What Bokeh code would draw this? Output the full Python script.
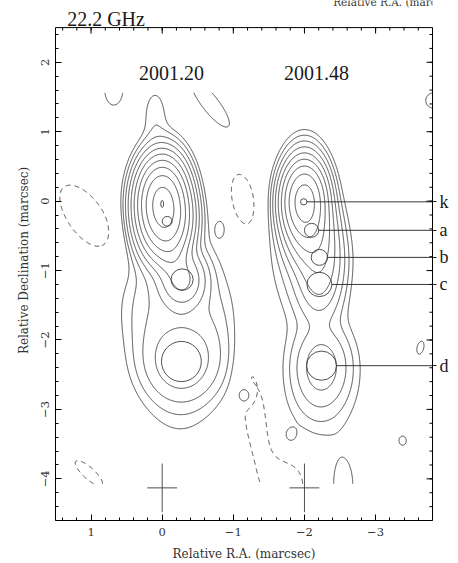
import numpy as np
import contourpy
from bokeh.plotting import figure
from bokeh.models import Range1d, LinearAxis, FixedTicker, Label, Span
from bokeh.embed import file_html
from bokeh.resources import INLINE

# ---------------- brightness model ----------------
# Elliptical Gaussian components: RA / Dec offsets (mas), peak (in units of the
# lowest contour), widths along RA / Dec (mas).

# epoch 2001.20, drawn at RA 0
ep1_ra    = [0.00, 0.00, -0.07, -0.14, -0.28, -0.15, -0.27, -0.25, 0.10, -0.65, 0.15]
ep1_dec   = [0.00, -0.10, -0.29, -0.75, -1.13, -1.30, -2.31, -2.50, 1.25, -1.85, -1.70]
ep1_peak  = [480, 160, 250, 25, 35, 3.0, 12, 2, 1.6, 2.0, 1.5]
ep1_s_ra  = [0.15, 0.18, 0.16, 0.12, 0.17, 0.42, 0.30, 0.35, 0.12, 0.25, 0.25]
ep1_s_dec = [0.26, 0.36, 0.26, 0.18, 0.22, 0.60, 0.32, 0.60, 0.28, 0.45, 0.40]

# epoch 2001.48, drawn at RA -2
ep2_ra    = [-2.00, -2.00, -2.10, -2.21, -2.21, -2.05, -2.24, -2.25, -2.20]
ep2_dec   = [0.00, -0.05, -0.42, -0.81, -1.20, -0.70, -2.37, -2.50, -2.85]
ep2_peak  = [300, 80, 60, 20, 12, 4, 10, 2, 1.2]
ep2_s_ra  = [0.14, 0.16, 0.16, 0.17, 0.17, 0.30, 0.21, 0.35, 0.25]
ep2_s_dec = [0.25, 0.36, 0.26, 0.27, 0.30, 0.60, 0.30, 0.60, 0.30]

# weak off-source features (negative ones give the dashed contours);
# widths along the first / second axis and rotation of the first axis (deg)
blob_ra   = [1.07, 1.03, 0.68, -0.68, -0.82, -1.14, -1.30, -1.17, -1.80, -3.38, -3.63, -3.84, -1.76, -2.54]
blob_dec  = [-0.23, -3.92, 1.60, 1.40, -0.39, 0.01, -3.03, -2.80, -3.38, -3.45, -2.11, 1.45, -4.05, -4.10]
blob_peak = [-1.6, -1.5, 1.5, 1.6, 1.3, -1.5, -1.6, 2.8, 1.3, 1.3, 1.3, 1.5, -1.4, 1.5]
blob_s1   = [0.55, 0.28, 0.14, 0.45, 0.065, 0.18, 0.16, 0.077, 0.075, 0.07, 0.065, 0.15, 0.28, 0.15]
blob_s2   = [0.26, 0.09, 0.24, 0.12, 0.12, 0.43, 0.66, 0.10, 0.095, 0.09, 0.13, 0.13, 0.35, 0.37]
blob_rot  = [55, 43, 0, 53, 0, -10, -7, 0, 0, 0, 13, 0, 0, 0]

# contour levels (multiples of the lowest contour)
contour_levels = [1, 2, 4, 8, 16, 32, 64, 128, 256, 512]
negative_levels = [-1]

# model-fit components drawn as circles (FWHM sizes, mas)
comp_ra  = [0.00, -0.07, -0.28, -0.27, -1.99, -2.10, -2.21, -2.21, -2.24]
comp_dec = [-0.04, -0.29, -1.13, -2.31, -0.01, -0.42, -0.81, -1.20, -2.37]
comp_w   = [0.04, 0.14, 0.31, 0.56, 0.09, 0.20, 0.23, 0.35, 0.42]
comp_h   = [0.10, 0.14, 0.31, 0.58, 0.09, 0.20, 0.23, 0.35, 0.42]

# identified components of the 2001.48 map (index into the component lists)
ident_names = ["k", "a", "b", "c", "d"]
ident_index = [4, 5, 6, 7, 8]

# epochs and restoring beam (FWHM, mas)
epoch_names = ["2001.20", "2001.48"]
epoch_ra = [-0.13, -2.17]
beam_ra = [0.0, -2.0]
beam_dec = -4.13
beam_major = 0.70
beam_minor = 0.42

x_ticks = [1, 0, -1, -2, -3]
y_ticks = [2, 1, 0, -1, -2, -3, -4]
x_minor = [round(v, 1) for v in np.arange(-3.8, 1.51, 0.2)]
y_minor = [round(v, 1) for v in np.arange(-4.6, 2.51, 0.2)]

# plotted area (mas); the frame reaches up to the page top so that the
# headings above the box can be placed with data coordinates
ra_left, ra_right = 1.5, -3.8
dec_bottom, dec_top = -4.6, 2.5
W, H = 458, 563
border_l, border_r, border_b = 55, 26, 43
px_ra = (W - border_l - border_r) / (ra_left - ra_right)
px_dec = px_ra * 0.976
dec_view_top = dec_bottom + (H - border_b) / px_dec

# ---------------- map grid ----------------
ra_axis = np.linspace(-3.80, 1.50, 531)
dec_axis = np.linspace(-4.07, 1.56, 564)
RA, DEC = np.meshgrid(ra_axis, dec_axis)


def gaussian(ra0, dec0, peak, s1, s2, rot):
    t = np.deg2rad(rot)
    du, dv = RA - ra0, DEC - dec0
    a = du * np.cos(t) + dv * np.sin(t)
    b = -du * np.sin(t) + dv * np.cos(t)
    return peak * np.exp(-0.5 * ((a / s1) ** 2 + (b / s2) ** 2))


field = np.zeros_like(RA)
for args in zip(ep1_ra, ep1_dec, ep1_peak, ep1_s_ra, ep1_s_dec):
    field += gaussian(*args, 0.0)
for args in zip(ep2_ra, ep2_dec, ep2_peak, ep2_s_ra, ep2_s_dec):
    field += gaussian(*args, 0.0)
for args in zip(blob_ra, blob_dec, blob_peak, blob_s1, blob_s2, blob_rot):
    field += gaussian(*args)

gen = contourpy.contour_generator(RA, DEC, field)


def level_lines(levels):
    xs, ys = [], []
    for lev in levels:
        for seg in gen.lines(lev):
            xs.append(seg[:, 0].tolist())
            ys.append(seg[:, 1].tolist())
    return xs, ys


# ---------------- figure ----------------
p = figure(width=W, height=H, x_range=Range1d(ra_left, ra_right), y_range=Range1d(dec_bottom, dec_view_top),
           output_backend="svg", toolbar_location=None,
           min_border_left=border_l, min_border_right=border_r, min_border_top=0, min_border_bottom=border_b)
p.background_fill_color = "white"
p.border_fill_color = "white"
p.outline_line_color = None
p.grid.visible = False

line_col = "#3c3c3c"
pxs, pys = level_lines(contour_levels)
p.multi_line(pxs, pys, line_color=line_col, line_width=0.9)
nxs, nys = level_lines(negative_levels)
p.multi_line(nxs, nys, line_color=line_col, line_width=0.9, line_dash="5 4")

p.ellipse(x=comp_ra, y=comp_dec, width=comp_w, height=comp_h,
          fill_color=None, line_color=line_col, line_width=0.9)

# restoring beam crosses
p.segment(x0=beam_ra, y0=[beam_dec - beam_major / 2] * 2, x1=beam_ra, y1=[beam_dec + beam_major / 2] * 2,
          line_color=line_col, line_width=0.9)
p.segment(x0=[r + beam_minor / 2 for r in beam_ra], y0=[beam_dec] * 2,
          x1=[r - beam_minor / 2 for r in beam_ra], y1=[beam_dec] * 2,
          line_color=line_col, line_width=0.9)

# lines from the identified components to the right edge
p.segment(x0=[comp_ra[i] - comp_w[i] / 2 for i in ident_index], y0=[comp_dec[i] for i in ident_index],
          x1=[ra_right] * len(ident_index), y1=[comp_dec[i] for i in ident_index],
          line_color="#222222", line_width=0.9)

# top edge of the box with its inward ticks, and inward ticks of the right edge
p.add_layout(Span(location=dec_top, dimension="width", line_color="black", line_width=1))
p.segment(x0=x_ticks, y0=[dec_top] * len(x_ticks), x1=x_ticks, y1=[dec_top - 6 / px_dec] * len(x_ticks),
          line_color="black", line_width=1)
p.segment(x0=x_minor, y0=[dec_top] * len(x_minor), x1=x_minor, y1=[dec_top - 3 / px_dec] * len(x_minor),
          line_color="black", line_width=1)
p.segment(x0=[ra_right] * len(y_ticks), y0=y_ticks, x1=[ra_right + 6 / px_ra] * len(y_ticks), y1=y_ticks,
          line_color="black", line_width=1)
p.segment(x0=[ra_right] * len(y_minor), y0=y_minor, x1=[ra_right + 3 / px_ra] * len(y_minor), y1=y_minor,
          line_color="black", line_width=1)

for name, r in zip(epoch_names, epoch_ra):
    p.add_layout(Label(x=r, y=1.85, text=name, text_font="Liberation Serif", text_font_size="20px",
                       text_align="center", text_baseline="middle", text_color="#1a1a1a"))

p.add_layout(Label(x=1.336, y=dec_view_top - 18 / px_dec, text="22.2 GHz", text_font="Liberation Serif",
                   text_font_size="20px", text_align="left", text_baseline="middle", text_color="#1a1a1a"))
p.add_layout(Label(x=-2.404, y=dec_view_top - 1.5 / px_dec, text="Relative R.A. (marcsec)",
                   text_font="DejaVu Serif", text_font_size="10.5px", text_align="left",
                   text_baseline="middle", text_color="#333333"))

# ---------------- axes ----------------
xt = FixedTicker(ticks=x_ticks, minor_ticks=x_minor)
yt = FixedTicker(ticks=y_ticks, minor_ticks=y_minor)
ax_b = p.below[0]
ax_l = p.left[0]
ax_b.ticker = xt
ax_l.ticker = yt
ax_l.bounds = (dec_bottom, dec_top)

# right edge: component letters with short outward continuations of the lines
ident_dec = [comp_dec[i] for i in ident_index]
ax_r = LinearAxis(ticker=FixedTicker(ticks=ident_dec, minor_ticks=[]), bounds=(dec_bottom, dec_top))
ax_r.major_label_overrides = {d: n for d, n in zip(ident_dec, ident_names)}
p.add_layout(ax_r, "right")

for ax in (ax_b, ax_l, ax_r):
    ax.major_tick_in = 6
    ax.major_tick_out = 0
    ax.minor_tick_in = 3
    ax.minor_tick_out = 0
    ax.axis_line_color = "black"
    ax.major_tick_line_color = "black"
    ax.minor_tick_line_color = "black"
    ax.major_label_text_font = "DejaVu Serif"
    ax.major_label_text_font_size = "11.5px"
    ax.major_label_text_color = "#333333"
    ax.axis_label_text_font = "DejaVu Serif"
    ax.axis_label_text_font_size = "12px"
    ax.axis_label_text_font_style = "normal"
    ax.axis_label_text_color = "#333333"

ax_r.major_tick_in = 0
ax_r.major_tick_out = 4
ax_r.major_tick_line_color = "#222222"
ax_r.major_label_standoff = 3
ax_r.major_label_text_font = "Liberation Serif"
ax_r.major_label_text_font_size = "18px"
ax_r.major_label_text_color = "#1a1a1a"

ax_b.axis_label = "Relative R.A. (marcsec)"
ax_b.major_label_overrides = {v: ("\u2212" + str(-v) if v < 0 else str(v)) for v in x_ticks}
ax_b.major_label_standoff = 7
ax_b.axis_label_standoff = 8

ax_l.axis_label = "Relative Declination (marcsec)"
ax_l.major_label_overrides = {v: ("\u2212" + str(-v) if v < 0 else str(v)) for v in y_ticks}
ax_l.major_label_orientation = "vertical"
ax_l.major_label_standoff = 6
ax_l.axis_label_standoff = 8

open("out.html", "w").write(file_html(p, INLINE))
